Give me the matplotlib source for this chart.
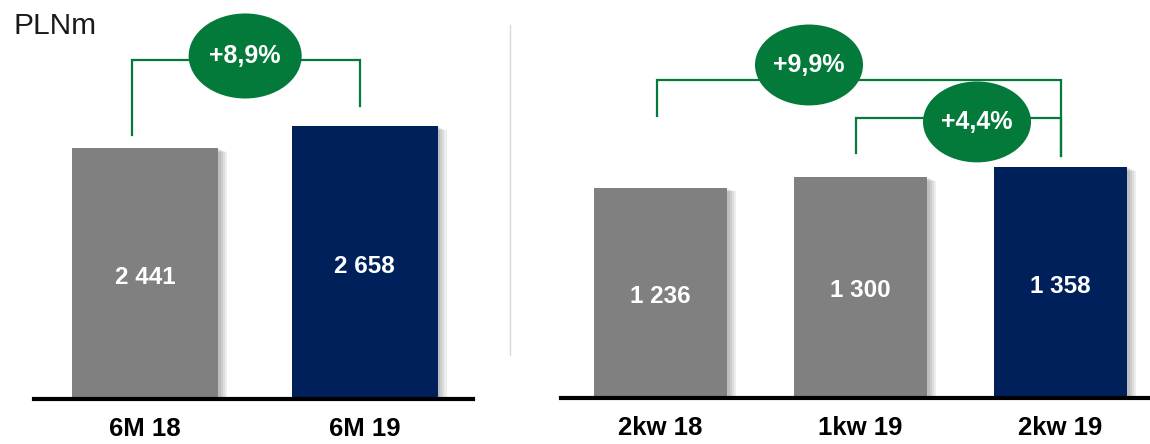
import matplotlib.pyplot as plt
import matplotlib.patheffects as pe
from matplotlib.patches import Ellipse
from matplotlib.lines import Line2D

GRAY = '#808080'
NAVY = '#00205B'
GREEN = '#037A3A'

# half-year figures
h_labels = ['6M 18', '6M 19']
h_values = [2441, 2658]
h_colors = [GRAY, NAVY]
h_change = '+8,9%'

# quarterly figures
q_labels = ['2kw 18', '1kw 19', '2kw 19']
q_values = [1236, 1300, 1358]
q_colors = [GRAY, GRAY, NAVY]
q_change_yoy = '+9,9%'
q_change_qoq = '+4,4%'

W, H = 1150, 444
fig = plt.figure(figsize=(W / 100, H / 100), dpi=100)

def px_axes(x0, x1, base):
    return fig.add_axes([x0 / W, (H - base) / H, (x1 - x0) / W, base / H])

shadow = [pe.SimplePatchShadow(offset=(d, -d * 0.4), shadow_rgbFace='k', alpha=0.07)
          for d in (2, 3.5, 5, 6.5)] + [pe.Normal()]

cat_font = dict(family='Liberation Sans', fontweight='bold', fontsize=18.5, color='black')
val_font = dict(family='Liberation Sans', fontweight='bold', fontsize=17.5, color='white')
pill_font = dict(family='Liberation Sans', fontweight='bold', fontsize=18, color='white')


def draw_bars(ax, labels, values, colors, ymax, xlim):
    x = list(range(len(values)))
    bars = ax.bar(x, values, width=0.665, color=colors, zorder=2)
    for b in bars:
        b.set_path_effects(shadow)
    for xi, v in zip(x, values):
        ax.text(xi, v * 0.485, f'{v:,}'.replace(',', ' '), ha='center', va='center',
                zorder=3, **val_font)
    ax.set_xlim(*xlim)
    ax.set_ylim(0, ymax)
    for s in ['top', 'right', 'left']:
        ax.spines[s].set_visible(False)
    ax.spines['bottom'].set_linewidth(3)
    ax.spines['bottom'].set_color('black')
    ax.set_yticks([])
    ax.set_xticks(x)
    ax.set_xticklabels(labels, **cat_font)
    ax.tick_params(axis='x', length=0, pad=13)
    ax.patch.set_alpha(0)


def pill(ax, cx, cy, w, h, txt):
    ax.add_patch(Ellipse((cx, cy), w, h, facecolor=GREEN, edgecolor='none',
                         zorder=5, clip_on=False))
    ax.text(cx, cy, txt, ha='center', va='center', zorder=6, clip_on=False, **pill_font)


def bracket(ax, x0, x1, y, y0, y1):
    ax.plot([x0, x0, x1, x1], [y0, y, y, y1], color=GREEN, lw=1.6,
            zorder=4, clip_on=False, solid_joinstyle='miter')


# left panel
ax1 = px_axes(34, 473, 399)
draw_bars(ax1, h_labels, h_values, h_colors, 399 / 0.1027, (-0.506, 1.494))
bracket(ax1, -0.059, 0.98, 3301, 2571, 2853)
pill(ax1, 0.456, 3340, 0.515, 828, h_change)

# right panel
ax2 = px_axes(561, 1150, 398)
draw_bars(ax2, q_labels, q_values, q_colors, 398 / 0.170, (-0.4975, 2.4475))
bracket(ax2, -0.0175, 2.0, 1871, 1659, 1424)
bracket(ax2, 0.9775, 2.0, 1647, 1441, 1424)
pill(ax2, 0.7425, 1959, 0.54, 476, q_change_yoy)
pill(ax2, 1.5825, 1624, 0.54, 476, q_change_qoq)

# separator between the panels
fig.add_artist(Line2D([510 / W, 510 / W], [(H - 25) / H, (H - 355) / H],
                      color='#d9d9d9', lw=1))

fig.text(14 / W, (H - 26) / H, 'PLNm', family='Liberation Sans', fontsize=21.5,
         color='#1a1a1a', ha='left', va='center')

fig.savefig('out.png', dpi=100)
